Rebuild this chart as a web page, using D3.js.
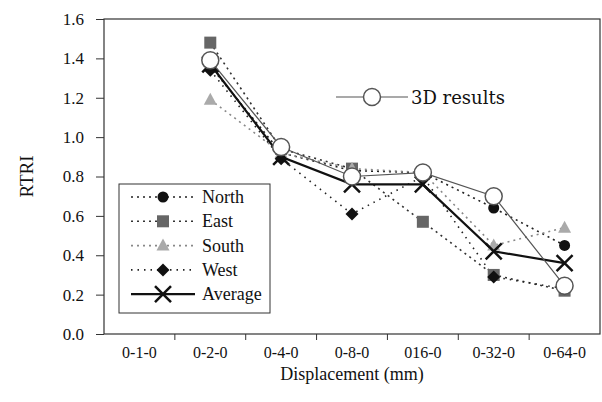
<!DOCTYPE html>
<html>
<head>
<meta charset="utf-8">
<script src="https://cdn.jsdelivr.net/npm/d3@7"></script>
<style>
	body { margin: 0; background: #fff; }
	svg text { font-family: "Liberation Serif", "DejaVu Serif", "Times New Roman", serif !important; fill: #111; }
	svg text.century { font-family: "DejaVu Serif", "Liberation Serif", serif !important; }
</style>
</head>
<body>
<script>

let width = 602;
let height = 402;

let margins = {
	top: 19,
	right: 2,
	bottom: 68,
	left: 104
};

// Categories and values
let categories = ["0-1-0", "0-2-0", "0-4-0", "0-8-0", "016-0", "0-32-0", "0-64-0"];
let yTicks = [0, 0.2, 0.4, 0.6, 0.8, 1.0, 1.2, 1.4, 1.6];

let north   = [null, 1.36, 0.92, 0.83, 0.82, 0.64, 0.45];
let east    = [null, 1.48, 0.94, 0.84, 0.57, 0.30, 0.22];
let south   = [null, 1.19, 0.92, 0.84, 0.82, 0.45, 0.54];
let west    = [null, 1.34, 0.89, 0.61, 0.80, 0.29, 0.23];
let average = [null, 1.37, 0.90, 0.76, 0.76, 0.42, 0.36];
let results3d = [null, 1.39, 0.95, 0.80, 0.82, 0.70, 0.245];

let series = [
	{title: "North", values: north, color: "#111", symbol: "circle", dash: "2,4", lineColor: "#222"},
	{title: "East", values: east, color: "#666", symbol: "square", dash: "2,4", lineColor: "#333"},
	{title: "South", values: south, color: "#aaa", symbol: "triangle", dash: "2,4", lineColor: "#888"},
	{title: "West", values: west, color: "#111", symbol: "diamond", dash: "1.5,5", lineColor: "#222"},
	{title: "Average", values: average, color: "#111", symbol: "x", dash: null, lineColor: "#111"}
];

let xScale = d3.scaleBand()
	.range([margins.left, width - margins.right])
	.domain(categories);

let yScale = d3.scaleLinear()
	.range([height - margins.bottom, margins.top])
	.domain([0, 1.6]);

let svg = d3.select("body")
	.append("svg")
		.attr("width", width)
		.attr("height", height);

let cx = (i) => xScale(categories[i]) + xScale.bandwidth() / 2;

function drawSymbol(g, type, x, y, color) {
	if (type === "circle") {
		g.append("circle").attr("cx", x).attr("cy", y).attr("r", 5.5).style("fill", color);
	} else if (type === "square") {
		g.append("rect").attr("x", x - 6).attr("y", y - 6).attr("width", 12).attr("height", 12).style("fill", color);
	} else if (type === "triangle") {
		g.append("path").attr("d", "M" + x + "," + (y - 7) + "L" + (x + 6.5) + "," + (y + 5) + "L" + (x - 6.5) + "," + (y + 5) + "Z").style("fill", color);
	} else if (type === "diamond") {
		g.append("path").attr("d", "M" + x + "," + (y - 6.5) + "L" + (x + 6.5) + "," + y + "L" + x + "," + (y + 6.5) + "L" + (x - 6.5) + "," + y + "Z").style("fill", color);
	} else if (type === "x") {
		g.append("path").attr("d", "M" + (x - 8) + "," + (y - 8) + "L" + (x + 8) + "," + (y + 8) + "M" + (x + 8) + "," + (y - 8) + "L" + (x - 8) + "," + (y + 8))
			.style("stroke", color).style("stroke-width", 2.5).style("fill", "none");
	} else if (type === "open") {
		g.append("circle").attr("cx", x).attr("cy", y).attr("r", 8.5)
			.style("fill", "#fff").style("stroke", "#555").style("stroke-width", 1.5);
	}
}

let line = d3.line()
	.defined((d) => d !== null)
	.x((d, i) => cx(i))
	.y((d) => yScale(d));

// Series lines
series.forEach((s) => {
	svg.append("path")
		.datum(s.values)
		.attr("d", line)
		.style("fill", "none")
		.style("stroke", s.lineColor)
		.style("stroke-width", s.dash ? 1.6 : 2.2)
		.style("stroke-dasharray", s.dash);
});

// 3D results line
svg.append("path")
	.datum(results3d)
	.attr("d", line)
	.style("fill", "none")
	.style("stroke", "#555")
	.style("stroke-width", 1.2);

// Markers
series.forEach((s) => {
	let g = svg.append("g");
	s.values.forEach((v, i) => {
		if (v !== null) drawSymbol(g, s.symbol, cx(i), yScale(v), s.color);
	});
});
let g3 = svg.append("g");
results3d.forEach((v, i) => {
	if (v !== null) drawSymbol(g3, "open", cx(i), yScale(v));
});

// Frame
svg.append("rect")
	.attr("x", margins.left)
	.attr("y", margins.top)
	.attr("width", width - margins.left - margins.right)
	.attr("height", height - margins.top - margins.bottom)
	.style("fill", "none")
	.style("stroke", "#333")
	.style("stroke-width", 1.2);

// Axes
let xAxis = d3.axisBottom(xScale).tickSize(0).tickPadding(13);
let gx = svg.append("g")
	.attr("transform", "translate(0," + (height - margins.bottom) + ")")
	.call(xAxis)
	.attr("font-family", null);
gx.select(".domain").remove();
gx.selectAll("text").style("font-size", "16px");

// tick marks between categories
svg.append("g")
	.selectAll("line")
	.data(categories.slice(1))
	.enter().append("line")
	.attr("x1", (d) => xScale(d))
	.attr("x2", (d) => xScale(d))
	.attr("y1", height - margins.bottom)
	.attr("y2", height - margins.bottom + 6)
	.style("stroke", "#333");

let yAxis = d3.axisLeft(yScale).tickValues(yTicks).tickFormat(d3.format(".1f")).tickSize(8).tickPadding(12);
let gy = svg.append("g")
	.attr("transform", "translate(" + margins.left + ",0)")
	.call(yAxis)
	.attr("font-family", null);
gy.select(".domain").remove();
gy.selectAll("line").style("stroke", "#333");
gy.selectAll("text").style("font-size", "17px");

// Axis titles
svg.append("text")
	.attr("x", (margins.left + width - margins.right) / 2)
	.attr("y", 380)
	.attr("text-anchor", "middle")
	.style("font-size", "18px")
	.text("Displacement (mm)");

svg.append("text")
	.attr("transform", "translate(33," + ((margins.top + height - margins.bottom) / 2) + ") rotate(-90)")
	.attr("text-anchor", "middle")
	.style("font-size", "19px")
	.text("RTRI");

// Legend
let legend = svg.append("g");
legend.append("rect")
	.attr("x", 119)
	.attr("y", 184)
	.attr("width", 151)
	.attr("height", 129)
	.style("fill", "#fff")
	.style("stroke", "#333")
	.style("stroke-width", 1);

series.forEach((s, i) => {
	let y = 197 + i * 24.3;
	legend.append("line")
		.attr("x1", 131).attr("x2", 195)
		.attr("y1", y).attr("y2", y)
		.style("stroke", s.lineColor)
		.style("stroke-width", s.dash ? 1.6 : 2.2)
		.style("stroke-dasharray", s.dash);
	drawSymbol(legend, s.symbol, 163, y, s.color);
	legend.append("text")
		.attr("x", 202)
		.attr("y", y + 6)
		.style("font-size", "18px")
		.text(s.title);
});

// 3D results legend
legend.append("line")
	.attr("x1", 336).attr("x2", 408)
	.attr("y1", 97).attr("y2", 97)
	.style("stroke", "#555")
	.style("stroke-width", 1.2);
drawSymbol(legend, "open", 372, 97);
legend.append("text")
	.attr("class", "century")
	.attr("x", 411)
	.attr("y", 104)
	.style("font-size", "18px")
	.text("3D results");

</script>
</body>
</html>
